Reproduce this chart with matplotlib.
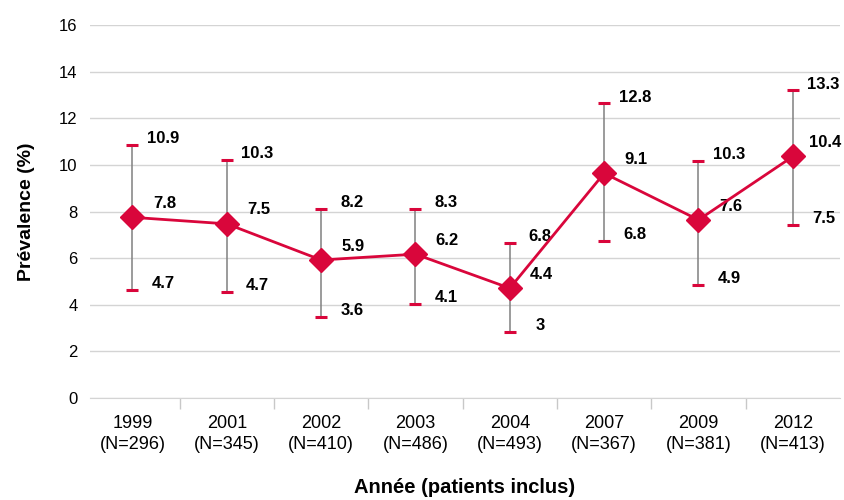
import matplotlib.pyplot as plt
from matplotlib.ticker import FixedLocator

# values
years = ["1999", "2001", "2002", "2003", "2004", "2007", "2009", "2012"]
n_patients = [296, 345, 410, 486, 493, 367, 381, 413]
prevalence = [7.75, 7.47, 5.92, 6.17, 4.71, 9.64, 7.64, 10.36]
upper = [10.86, 10.21, 8.1, 8.11, 6.67, 12.64, 10.18, 13.2]
lower = [4.64, 4.55, 3.48, 4.05, 2.83, 6.74, 4.85, 7.42]
# printed labels (as shown in the chart)
mid_labels = ["7.8", "7.5", "5.9", "6.2", "4.4", "9.1", "7.6", "10.4"]
up_labels = ["10.9", "10.3", "8.2", "8.3", "6.8", "12.8", "10.3", "13.3"]
low_labels = ["4.7", "4.7", "3.6", "4.1", "3", "6.8", "4.9", "7.5"]

RED = "#D9063B"
GREY = "#808080"
plt.rcParams["font.family"] = ["Liberation Sans", "DejaVu Sans"]

fig = plt.figure(figsize=(8.44, 5), dpi=100)
ax = fig.add_axes([90 / 844, 102 / 500, 750 / 844, 373 / 500])

x = list(range(len(years)))
yerr = [[p - lo for p, lo in zip(prevalence, lower)],
        [u - p for u, p in zip(upper, prevalence)]]
ax.errorbar(x, prevalence, yerr=yerr, fmt="none", ecolor=GREY, elinewidth=1.1,
            capsize=0, zorder=2)
ax.plot(x, upper, linestyle="none", marker="_", markersize=9, mew=2.2, color=RED, zorder=3)
ax.plot(x, lower, linestyle="none", marker="_", markersize=9, mew=2.2, color=RED, zorder=3)
ax.plot(x, prevalence, color=RED, linewidth=2, marker="D", markersize=12, zorder=4)

lab = dict(fontsize=12, fontweight="bold", va="center", ha="center",
           textcoords="offset points")
for i in x:
    ax.annotate(up_labels[i], (i, upper[i]), xytext=(22, 4.5), **lab)
    ax.annotate(mid_labels[i], (i, prevalence[i]), xytext=(23, 10), **lab)
    ax.annotate(low_labels[i], (i, lower[i]), xytext=(22, 4.5), **lab)

ax.set_ylim(0, 16)
ax.set_yticks(range(0, 17, 2))
ax.set_xlim(-0.45, len(years) - 0.5)
ax.set_xticks(x)
ax.set_xticklabels([f"{y}\n(N={n})" for y, n in zip(years, n_patients)],
                   fontsize=13, linespacing=1.3)
ax.xaxis.set_minor_locator(FixedLocator([i + 0.5 for i in range(len(years) - 1)]))
ax.tick_params(axis="x", which="major", length=0, pad=12)
ax.tick_params(axis="x", which="minor", length=8, color="#c8c8c8", width=1)
ax.tick_params(axis="y", length=0, labelsize=12, pad=9)

ax.grid(axis="y", color="#d4d4d4", linewidth=1)
ax.set_axisbelow(True)
for side in ["left", "right", "top"]:
    ax.spines[side].set_visible(False)
ax.spines["bottom"].set_color("#d4d4d4")

ax.set_xlabel("Année (patients inclus)", fontsize=14.5, fontweight="bold", labelpad=18)
ax.set_ylabel("Prévalence (%)", fontsize=14, fontweight="bold", labelpad=17)

fig.savefig("out.png", dpi=100)
